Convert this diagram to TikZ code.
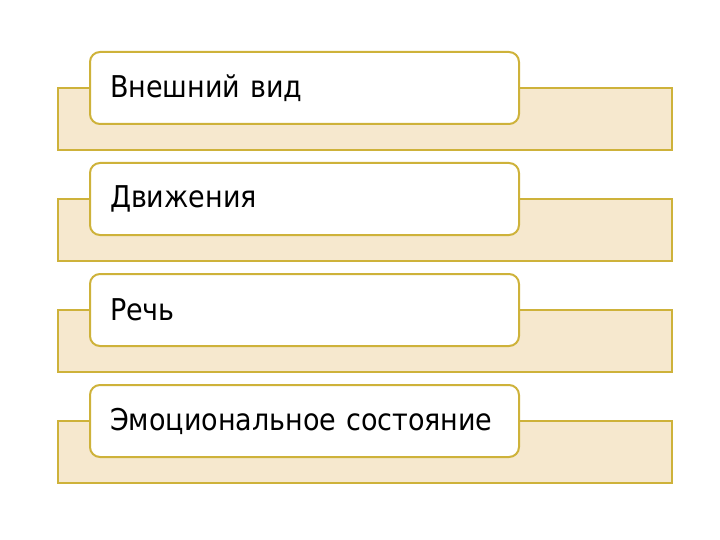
\documentclass[tikz,border=0pt]{standalone}
\usepackage{fontspec}
\setmainfont{DejaVu Sans Condensed}
\definecolor{goldline}{RGB}{206,178,58}
\definecolor{beigefill}{RGB}{246,232,206}

\begin{document}
\begin{tikzpicture}
[x=1pt,y=-1pt,line width=2pt,%
  back/.style={rectangle,draw=goldline,fill=beigefill,minimum width=614pt,minimum height=62pt,inner sep=0pt},%
  front/.style={rectangle,rounded corners=10pt,draw=goldline,fill=white,text width=389pt,inner xsep=20pt,minimum height=72pt,align=left,font=\fontsize{30}{35}\selectfont}]
\useasboundingbox (0,0) rectangle (720,540);
\foreach \t [count=\i] in {Внешний вид,Движения,Речь,Эмоциональное состояние}{
  \node[back] (back\i) at (365,{119+111*(\i-1)}) {};
  \node[front] (item\i) at (304.5,{88+111*(\i-1)}) {\t};
}
\end{tikzpicture}
\end{document}
